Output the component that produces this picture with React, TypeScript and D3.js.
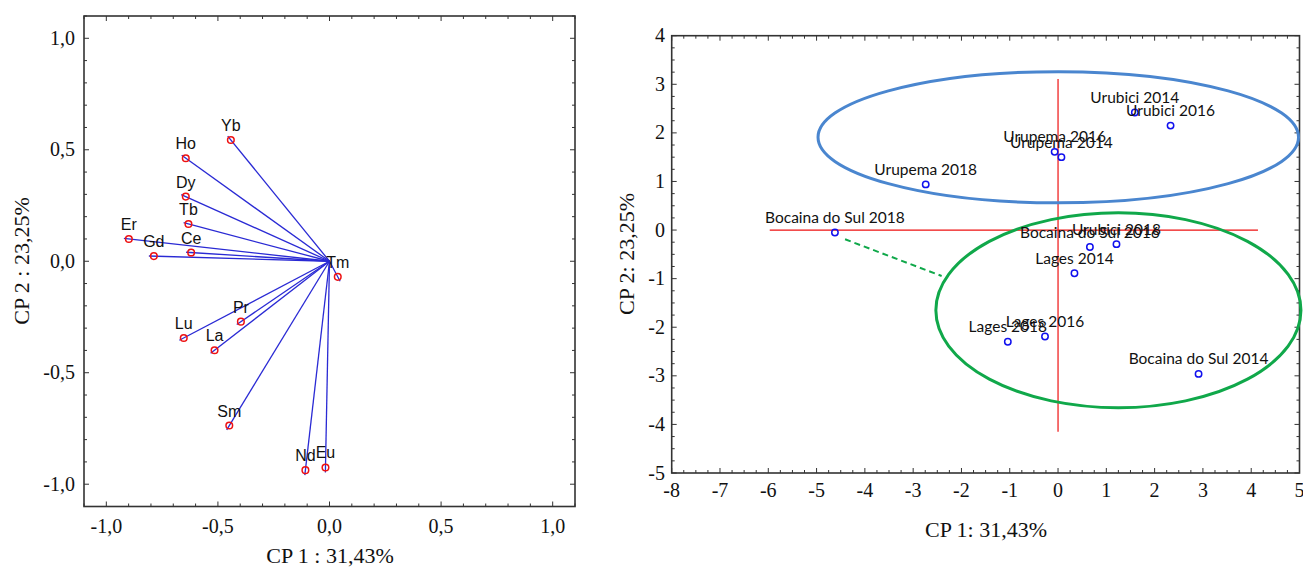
import React from "react";
import * as d3 from "d3";

// ---- Left panel: variable loadings ----
const elements = ["Yb", "Ho", "Dy", "Tb", "Er", "Gd", "Ce", "Tm", "Pr", "Lu", "La", "Sm", "Nd", "Eu"];
const loadingCp1 = [-0.442, -0.644, -0.644, -0.632, -0.899, -0.787, -0.62, 0.037, -0.397, -0.653, -0.515, -0.449, -0.108, -0.018];
const loadingCp2 = [0.544, 0.462, 0.29, 0.167, 0.1, 0.023, 0.039, -0.07, -0.271, -0.344, -0.399, -0.737, -0.937, -0.925];
const leftTickValues = [-1, -0.5, 0, 0.5, 1];
const leftTickLabels = ["-1,0", "-0,5", "0,0", "0,5", "1,0"];
const leftXTitle = "CP 1 : 31,43%";
const leftYTitle = "CP 2 : 23,25%";

// ---- Right panel: sample scores ----
const samples = [
  "Urubici 2014", "Urubici 2016", "Urupema 2016", "Urupema 2014", "Urupema 2018",
  "Bocaina do Sul 2018", "Bocaina do Sul 2016", "Urubici 2018", "Lages 2014",
  "Lages 2018", "Lages 2016", "Bocaina do Sul 2014",
];
const scoreCp1 = [1.59, 2.33, -0.07, 0.07, -2.74, -4.62, 0.66, 1.21, 0.34, -1.04, -0.27, 2.91];
const scoreCp2 = [2.42, 2.15, 1.61, 1.5, 0.94, -0.05, -0.35, -0.29, -0.89, -2.3, -2.19, -2.96];
const rightXTicks = [-8, -7, -6, -5, -4, -3, -2, -1, 0, 1, 2, 3, 4, 5];
const rightYTicks = [-5, -4, -3, -2, -1, 0, 1, 2, 3, 4];
const rightXTitle = "CP 1: 31,43%";
const rightYTitle = "CP 2: 23,25%";
// group ellipses: [cx, cy, rx, ry] in data units
const blueGroup = [0.005, 1.91, 4.975, 1.35];
const greenGroup = [1.25, -1.65, 3.78, 2.006];
// reference cross lines in data units
const hLine = [-5.97, 4.14];
const vLine = [-4.15, 3.11];
// dashed link from Bocaina do Sul 2018 toward green group
const dashLink = [[-4.41, -0.19], [-2.41, -0.945]];

const SERIF = "'Liberation Serif', 'Times New Roman', serif";

function Frame({ x0, x1, y0, y1 }: any) {
  return <rect x={x0} y={y0} width={x1 - x0} height={y1 - y0} fill="none" stroke="#333" strokeWidth={1.6} />;
}

function Ticks({ xs, ys, x, y, major }: any) {
  const out: any[] = [];
  const [X0, X1] = x.range();
  const [Y0, Y1] = y.range();
  const top = Math.min(Y0, Y1), bot = Math.max(Y0, Y1);
  xs.forEach((v: number, i: number) => {
    const L = major(v) ? 5 : 3;
    const px = x(v);
    out.push(<line key={"xb" + i} x1={px} x2={px} y1={bot} y2={bot - L} stroke="#333" strokeWidth={1} />);
    out.push(<line key={"xt" + i} x1={px} x2={px} y1={top} y2={top + L} stroke="#333" strokeWidth={1} />);
  });
  ys.forEach((v: number, i: number) => {
    const L = major(v) ? 5 : 3;
    const py = y(v);
    out.push(<line key={"yl" + i} x1={X0} x2={X0 + L} y1={py} y2={py} stroke="#333" strokeWidth={1} />);
    out.push(<line key={"yr" + i} x1={X1} x2={X1 - L} y1={py} y2={py} stroke="#333" strokeWidth={1} />);
  });
  return <g>{out}</g>;
}

export default function App() {
  // left scales
  const lx = d3.scaleLinear().domain([-1.1, 1.1]).range([84, 575]);
  const ly = d3.scaleLinear().domain([-1.1, 1.1]).range([506.5, 16]);
  const leftMinor = d3.range(-11, 12).map((k) => k / 10);
  const isLeftMajor = (v: number) => Math.abs(v * 2 - Math.round(v * 2)) < 1e-6;

  // right scales
  const rx = d3.scaleLinear().domain([-8, 5]).range([671.7, 1299.5]);
  const ry = d3.scaleLinear().domain([-5, 4]).range([473, 35.7]);
  const rMinorX = d3.range(-32, 21).map((k) => k / 4);
  const rMinorY = d3.range(-20, 17).map((k) => k / 4);
  const isIntMajor = (v: number) => Math.abs(v - Math.round(v)) < 1e-6;

  const ox = lx(0), oy = ly(0);

  return (
    <svg width={1303} height={569} style={{ position: "absolute", left: 0, top: 0, background: "#fff" }}>
      <rect x={0} y={0} width={1303} height={569} fill="#fff" />
      {/* ---------- LEFT PANEL ---------- */}
      <Frame x0={84} x1={575} y0={16} y1={506.5} />
      <Ticks xs={leftMinor} ys={leftMinor} x={lx} y={ly} major={isLeftMajor} />
      {leftTickValues.map((v, i) => (
        <text key={"lxt" + i} x={lx(v)} y={533} textAnchor="middle" fontFamily={SERIF} fontSize={20} fill="#111">
          {leftTickLabels[i]}
        </text>
      ))}
      {leftTickValues.map((v, i) => (
        <text key={"lyt" + i} x={75} y={ly(v)} dy="0.33em" textAnchor="end" fontFamily={SERIF} fontSize={20} fill="#111">
          {leftTickLabels[i]}
        </text>
      ))}
      <text x={330} y={563} textAnchor="middle" fontFamily={SERIF} fontSize={22} fill="#111">{leftXTitle}</text>
      <text transform={`translate(29,261) rotate(-90)`} textAnchor="middle" fontFamily={SERIF} fontSize={22} fill="#111">{leftYTitle}</text>
      {elements.map((e, i) => {
        const px = lx(loadingCp1[i]), py = ly(loadingCp2[i]);
        const dx = px - ox, dy = py - oy;
        const len = Math.hypot(dx, dy) || 1;
        const ex = px + (dx / len) * 5, ey = py + (dy / len) * 5;
        return <line key={"v" + i} x1={ox} y1={oy} x2={ex} y2={ey} stroke="#2a2ad4" strokeWidth={1.3} />;
      })}
      {elements.map((e, i) => (
        <circle key={"c" + i} cx={lx(loadingCp1[i])} cy={ly(loadingCp2[i])} r={3.3} fill="none" stroke="#ee1111" strokeWidth={1.5} />
      ))}
      {elements.map((e, i) => (
        <text key={"t" + i} x={lx(loadingCp1[i])} y={ly(loadingCp2[i]) - 9} textAnchor="middle"
          fontFamily="'Liberation Sans', Arial, sans-serif" fontSize={16} fill="#111">{e}</text>
      ))}

      {/* ---------- RIGHT PANEL ---------- */}
      <Frame x0={671.7} x1={1299.5} y0={35.7} y1={473} />
      <Ticks xs={rMinorX} ys={rMinorY} x={rx} y={ry} major={isIntMajor} />
      {rightXTicks.map((v, i) => (
        <text key={"rxt" + i} x={rx(v)} y={497} textAnchor="middle" fontFamily={SERIF} fontSize={20} fill="#111">{String(v)}</text>
      ))}
      {rightYTicks.map((v, i) => (
        <text key={"ryt" + i} x={665} y={ry(v)} dy="0.33em" textAnchor="end" fontFamily={SERIF} fontSize={20} fill="#111">{String(v)}</text>
      ))}
      <text x={986} y={537} textAnchor="middle" fontFamily={SERIF} fontSize={22} fill="#111">{rightXTitle}</text>
      <text transform={`translate(634,254) rotate(-90)`} textAnchor="middle" fontFamily={SERIF} fontSize={22} fill="#111">{rightYTitle}</text>

      {/* cross lines */}
      <line x1={rx(hLine[0])} x2={rx(hLine[1])} y1={ry(0)} y2={ry(0)} stroke="#ee1111" strokeWidth={1.2} />
      <line x1={rx(0)} x2={rx(0)} y1={ry(vLine[0])} y2={ry(vLine[1])} stroke="#ee1111" strokeWidth={1.2} />

      {/* group ellipses */}
      <ellipse cx={rx(blueGroup[0])} cy={ry(blueGroup[1])} rx={rx(blueGroup[2]) - rx(0)} ry={ry(0) - ry(blueGroup[3])}
        fill="none" stroke="#4a86cf" strokeWidth={3} />
      <ellipse cx={rx(greenGroup[0])} cy={ry(greenGroup[1])} rx={rx(greenGroup[2]) - rx(0)} ry={ry(0) - ry(greenGroup[3])}
        fill="none" stroke="#10a84a" strokeWidth={3} />
      <line x1={rx(dashLink[0][0])} y1={ry(dashLink[0][1])} x2={rx(dashLink[1][0])} y2={ry(dashLink[1][1])}
        stroke="#10a84a" strokeWidth={2} strokeDasharray="6,4" />

      {/* sample points */}
      {samples.map((s, i) => (
        <circle key={"p" + i} cx={rx(scoreCp1[i])} cy={ry(scoreCp2[i])} r={3.2} fill="none" stroke="#1010ee" strokeWidth={1.5} />
      ))}
      {samples.map((s, i) => (
        <text key={"s" + i} x={rx(scoreCp1[i])} y={ry(scoreCp2[i]) - 9.5} textAnchor="middle"
          fontFamily="Lato, 'Open Sans', sans-serif" fontSize={15.5} fill="#111">{s}</text>
      ))}
    </svg>
  );
}
